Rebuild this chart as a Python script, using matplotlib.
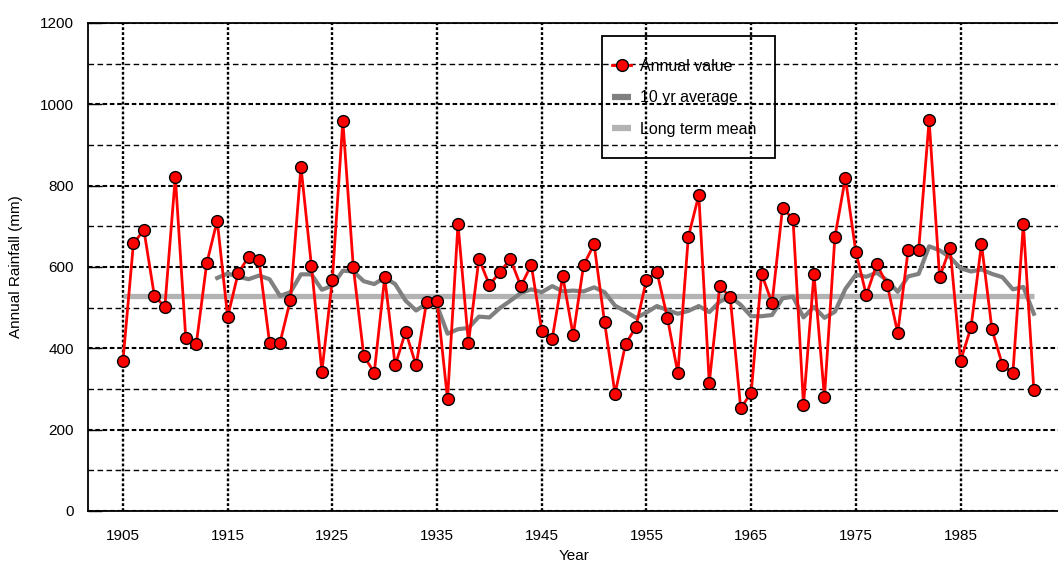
import matplotlib
matplotlib.use('Agg')
import matplotlib.pyplot as plt
from matplotlib.ticker import MultipleLocator
from matplotlib.patches import Rectangle
from matplotlib.lines import Line2D

# ---------------- data ----------------
years = list(range(1905, 1993))
annual = [370, 658, 691, 529, 502, 822, 425, 410, 609, 714,
          477, 585, 625, 616, 414, 414, 520, 847, 603, 343,
          569, 960, 600, 382, 340, 575, 358, 441, 358, 514,
          517, 275, 706, 413, 620, 556, 587, 620, 553, 605,
          443, 424, 578, 432, 605, 656, 464, 288, 410, 453,
          569, 588, 475, 339, 674, 777, 315, 553, 526, 253,
          290, 583, 511, 745, 718, 261, 583, 280, 674, 819,
          637, 531, 607, 556, 438, 642, 642, 961, 575, 647,
          369, 452, 657, 447, 359, 339, 706, 298]

avg_years = list(range(1914, 1993))
avg10 = [573, 584, 576, 570, 579, 570, 529, 538, 582, 582,
         544, 554, 591, 589, 565, 558, 574, 558, 517, 493,
         510, 505, 436, 447, 450, 478, 476, 499, 517, 536,
         545, 538, 553, 540, 542, 540, 550, 538, 505, 491,
         475, 488, 504, 494, 485, 492, 504, 489, 515, 527,
         507, 479, 479, 482, 523, 527, 476, 502, 475, 490,
         546, 581, 576, 586, 567, 539, 577, 583, 651, 641,
         624, 597, 589, 594, 583, 575, 545, 551, 485]

long_term_mean = 528

x_ticks = [1905, 1915, 1925, 1935, 1945, 1955, 1965, 1975, 1985]
y_ticks = [0, 200, 400, 600, 800, 1000, 1200]

labels = ['Annual value', '10 yr average', 'Long term mean']

# ---------------- style ----------------
plt.rcParams['font.family'] = ['Liberation Sans', 'DejaVu Sans']

W, H = 1058, 563
fig = plt.figure(figsize=(W / 100, H / 100), dpi=100)
ax = fig.add_axes([88 / W, 52 / H, 972 / W, 488 / H])
ax.set_xlim(1901.66, 1994.5)
ax.set_ylim(0, 1200)

# grid
ax.set_xticks(x_ticks)
ax.set_yticks(y_ticks)
ax.yaxis.set_minor_locator(MultipleLocator(100))
ax.grid(True, which='major', axis='x', color='black', linestyle=(0, (1.2, 0.9)), linewidth=1.7)
ax.grid(True, which='major', axis='y', color='black', linestyle=(0, (2.2, 1.3)), linewidth=1.5)
ax.grid(True, which='minor', axis='y', color='black', linestyle=(0, (4, 2.5)), linewidth=1.0)
ax.set_axisbelow(True)

ax.spines['right'].set_visible(False)
for s in ['left', 'bottom', 'top']:
    ax.spines[s].set_linewidth(1.3)
    ax.spines[s].set_color('black')

ax.tick_params(axis='y', which='major', direction='in', length=10, width=1.0, pad=10, labelsize=11)
ax.tick_params(axis='y', which='minor', length=0)
ax.tick_params(axis='x', which='major', length=0, pad=13, labelsize=11)

# series
ax.plot([years[0], years[-1]], [long_term_mean, long_term_mean], color='#b3b3b3',
        linewidth=3.8, solid_capstyle='butt', zorder=2)
ax.plot(avg_years, avg10, color='#808080', linewidth=3.0, zorder=3)
ax.plot(years, annual, color='#ff0000', linewidth=2.0, marker='o', markersize=8.5,
        markerfacecolor='#ff0000', markeredgecolor='black', markeredgewidth=1.0, zorder=4)

ax.set_ylabel('Annual Rainfall (mm)', fontsize=11, labelpad=12)
ax.set_xlabel('Year', fontsize=11, labelpad=4)

# legend
handles = [
    Line2D([], [], color='#ff0000', linewidth=2.0, marker='o', markersize=8.5,
           markerfacecolor='#ff0000', markeredgecolor='black', markeredgewidth=1.0),
    Line2D([], [], color='#808080', linewidth=4.5, solid_capstyle='butt'),
    Line2D([], [], color='#b3b3b3', linewidth=4.5, solid_capstyle='butt'),
]
leg = ax.legend(handles, labels, loc='upper left',
                bbox_to_anchor=(612 / W, 1 - 59 / H), bbox_transform=fig.transFigure,
                frameon=False, fontsize=11.5, borderpad=0, borderaxespad=0,
                handlelength=1.2, handletextpad=0.55, labelspacing=1.02)
leg.set_zorder(6)
rect = Rectangle((602 / W, 1 - 158 / H), 173 / W, 122 / H, transform=fig.transFigure,
                 fill=False, edgecolor='black', linewidth=1.3, zorder=7)
fig.patches.append(rect)

fig.savefig('out.png', dpi=100)
